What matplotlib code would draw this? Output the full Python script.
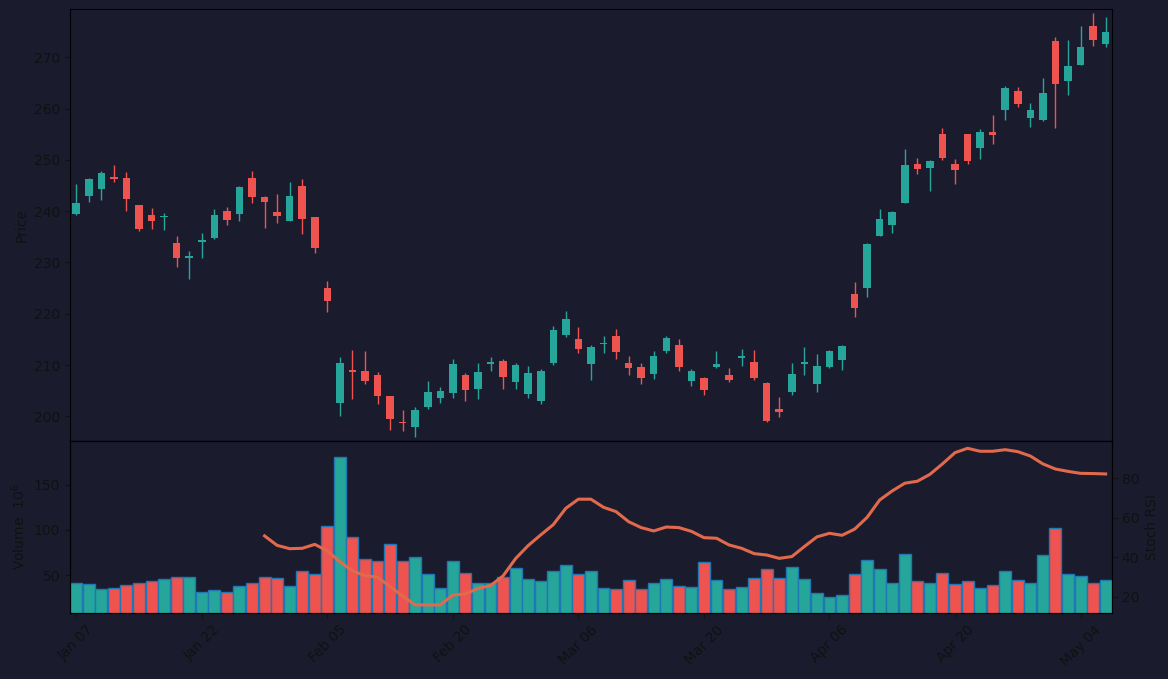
import numpy as np
import matplotlib
matplotlib.use("Agg")
import matplotlib.pyplot as plt

# ---- data (one entry per trading day)
opens = [239.5, 243.0, 244.4, 246.7, 246.5, 241.2, 239.25, 238.86, 233.8, 230.9,
         233.9, 234.8, 240.0, 239.5, 246.5, 242.8, 239.8, 238.15, 244.9, 238.86,
         225.0, 202.7, 209.1, 208.84, 208.06, 203.96, 198.96, 197.98, 201.88, 203.64,
         204.61, 208.06, 205.39, 210.27, 210.79, 206.76, 204.42, 203.05, 210.46, 215.92,
         215.08, 210.27, 214.2, 215.66, 210.4, 209.62, 208.32, 212.8, 213.91, 206.95,
         207.47, 209.68, 208.06, 211.37, 210.6, 206.5, 201.43, 204.81, 210.27, 206.37,
         209.62, 211.05, 223.85, 225.08, 235.22, 237.37, 241.66, 249.2, 248.48, 255.04,
         249.2, 255.04, 252.38, 255.43, 259.79, 263.43, 258.23, 257.84, 273.18, 265.44,
         268.56, 276.1, 272.66]
highs = [245.2, 246.4, 247.8, 249.0, 247.6, 241.2, 240.55, 239.6, 235.1, 232.2,
         235.7, 240.4, 240.9, 244.9, 247.8, 242.9, 243.3, 245.6, 246.2, 238.9,
         226.4, 211.6, 212.9, 212.74, 208.64, 204.0, 201.23, 201.75, 206.82, 205.65,
         211.11, 208.38, 210.33, 211.5, 211.11, 210.33, 209.75, 209.16, 217.61, 220.54,
         217.42, 213.84, 215.66, 216.96, 211.7, 210.46, 212.67, 215.6, 215.01, 209.16,
         207.67, 212.74, 209.36, 213.13, 212.87, 206.69, 203.7, 210.4, 213.45, 212.15,
         212.93, 213.91, 226.13, 233.73, 240.36, 240.03, 252.05, 250.3, 249.97, 256.15,
         250.1, 255.1, 255.95, 258.68, 264.34, 264.14, 261.02, 265.9, 273.89, 273.31,
         276.04, 278.57, 277.79]
lows = [239.25, 241.85, 242.1, 245.75, 240.1, 236.2, 236.6, 236.3, 229.2, 226.8,
        230.8, 234.5, 237.4, 238.0, 241.5, 236.65, 237.6, 238.1, 235.5, 231.8,
        220.3, 200.1, 203.3, 206.37, 202.47, 197.4, 197.2, 195.9, 201.49, 202.66,
        203.64, 203.05, 203.31, 208.9, 205.26, 205.26, 203.51, 202.47, 210.07, 215.53,
        212.41, 207.02, 212.41, 211.24, 208.12, 206.24, 207.34, 212.41, 208.77, 205.98,
        204.22, 209.49, 206.63, 209.88, 207.02, 198.96, 199.93, 204.09, 208.12, 204.81,
        209.49, 208.97, 219.43, 223.2, 235.09, 235.68, 241.66, 247.18, 244.0, 250.04,
        245.23, 249.13, 250.23, 253.03, 257.71, 260.24, 256.47, 257.64, 256.15, 262.58,
        268.5, 272.27, 272.07]
closes = [241.6, 246.3, 247.4, 246.3, 242.4, 236.5, 238.15, 239.12, 230.9, 231.3,
          234.4, 239.25, 238.3, 244.7, 242.8, 241.7, 239.1, 242.96, 238.5, 232.9,
          222.55, 210.4, 208.7, 206.95, 204.03, 199.54, 198.7, 201.23, 204.74, 204.94,
          210.2, 205.2, 208.64, 210.59, 207.73, 210.01, 208.45, 208.84, 216.83, 218.98,
          213.19, 213.52, 214.4, 212.61, 209.49, 207.54, 211.76, 215.27, 209.68, 208.84,
          205.2, 210.2, 207.15, 211.76, 207.54, 199.09, 200.91, 208.25, 210.6, 209.81,
          212.74, 213.71, 221.19, 233.6, 238.47, 239.84, 249.0, 248.28, 249.78, 250.43,
          248.09, 249.84, 255.43, 254.91, 264.01, 260.96, 259.72, 263.04, 264.86, 268.3,
          272.01, 273.44, 274.93]
volumes = [41.8, 39.6, 34.1, 35.2, 38.5, 40.7, 43.0, 45.2, 47.4, 47.4,
           31.5, 33.0, 31.8, 37.4, 40.7, 47.4, 46.3, 37.4, 54.1, 50.7,
           104.1, 180.7, 91.8, 67.4, 65.2, 84.1, 65.9, 69.6, 50.7, 35.2,
           65.9, 52.6, 40.7, 40.7, 47.8, 57.4, 45.2, 43.0, 54.1, 60.7,
           50.7, 54.1, 35.2, 34.1, 44.1, 34.8, 41.8, 45.2, 37.4, 36.7,
           64.1, 44.1, 34.8, 36.3, 46.3, 56.3, 46.3, 58.5, 45.2, 30.7,
           25.2, 27.4, 50.7, 66.3, 56.3, 41.8, 72.9, 43.0, 41.8, 51.8,
           39.6, 43.0, 35.2, 38.5, 54.1, 44.1, 41.8, 71.8, 101.8, 50.7,
           48.5, 41.8, 44.1]
# Stoch RSI only exists from the 16th session on
stoch_rsi = [np.nan] * 15 + [
    50.8, 46.0, 44.3, 44.5, 46.5, 43.2, 37.7, 33.0, 30.7, 29.8,
    25.1, 20.3, 15.8, 15.8, 15.8, 20.8, 21.4, 24.1, 25.6, 30.5,
    39.3, 45.9, 51.3, 56.5, 64.8, 69.4, 69.4, 65.3, 63.1, 58.0,
    55.0, 53.3, 55.3, 55.0, 53.1, 49.9, 49.6, 46.2, 44.5, 41.8,
    41.1, 39.4, 40.3, 45.4, 50.3, 52.1, 51.1, 54.2, 60.2, 69.0,
    73.6, 77.5, 78.5, 82.0, 87.3, 93.0, 95.2, 93.7, 93.7, 94.5,
    93.5, 91.3, 87.3, 84.7, 83.5, 82.5, 82.4, 82.2]
tick_labels = ["Jan 07", "Jan 22", "Feb 05", "Feb 20", "Mar 06",
               "Mar 20", "Apr 06", "Apr 20", "May 04"]

# ---- style
bg = "#1b1b2e"
up_col = "#26a69a"
down_col = "#ef5350"
txt = "#111111"

o = np.array(opens); h = np.array(highs); l = np.array(lows); c = np.array(closes)
v = np.array(volumes)
x = np.arange(len(o))
cols = np.where(c >= o, up_col, down_col)

fig = plt.figure(figsize=(11.68, 6.79), dpi=100, facecolor=bg)
ax = fig.add_axes([0.0599, 0.3505, 0.8921, 0.6362], facecolor=bg)
axv = fig.add_axes([0.0599, 0.0972, 0.8921, 0.2533], facecolor=bg, sharex=ax)
axs = axv.twinx()

# candles
ax.vlines(x, l, h, colors=cols, linewidth=1.0, zorder=2)
body = np.maximum(np.abs(c - o), 0.12)
ax.bar(x, body, bottom=np.minimum(o, c), width=0.6, color=cols, zorder=3)
ax.set_ylim(195.2, 279.4)
ax.set_ylabel("Price", color=txt, fontsize=10)
ax.set_yticks(np.arange(200, 271, 10))
ax.tick_params(axis="x", labelbottom=False, bottom=False)

# volume
axv.bar(x, v, width=0.95, color=cols, edgecolor="#1f77b4", linewidth=1.0, zorder=2)
axv.set_ylim(8, 198.6)
axv.set_yticks([50, 100, 150])
axv.set_ylabel("Volume  $10^6$", color=txt, fontsize=10)

# stoch rsi
axs.plot(x, stoch_rsi, color="#e26a4c", linewidth=2.2, zorder=4)
axs.set_ylim(11.7, 98.9)
axs.set_yticks([20, 40, 60, 80])
axs.set_ylabel("Stoch RSI", color=txt, fontsize=10)
axs.set_zorder(axv.get_zorder() + 1)
axs.patch.set_visible(False)

axv.set_xlim(-0.5, len(x) - 0.5)
axv.set_xticks(x[::10])
axv.set_xticklabels(tick_labels, rotation=45)

for a in (ax, axv, axs):
    a.tick_params(colors=txt, labelcolor=txt, labelsize=10)
    for s in a.spines.values():
        s.set_color("black")

fig.savefig("out.png", dpi=100, facecolor=bg)
